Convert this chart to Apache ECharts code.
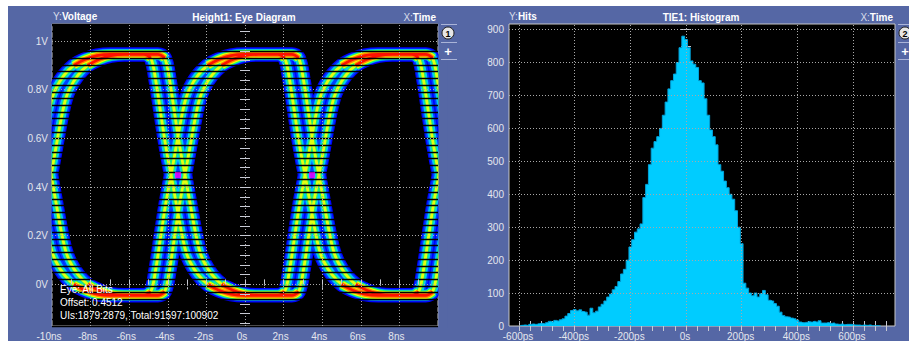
<!DOCTYPE html>
<html><head><meta charset="utf-8">
<script src="https://cdn.jsdelivr.net/npm/echarts@6/dist/echarts.min.js"></script>
<style>
html,body{margin:0;padding:0;background:#fff;}
#wrap{position:relative;width:909px;height:341px;overflow:hidden;}
#panel{position:absolute;left:8px;top:6px;right:0;bottom:0;background:#5567a5;}
#chart{position:absolute;left:0;top:0;width:909px;height:341px;}
</style></head><body>
<div id="wrap"><div id="panel"></div><div id="chart"></div></div>
<script>
// ---------- Eye diagram data (time in ns, level in V) ----------
const eyeXLabelValues = [-10, -8, -6, -4, -2, 0, 2, 4, 6, 8];
const eyeYLabelValues = [0, 0.2, 0.4, 0.6, 0.8, 1];
const eyeGridX = [-8, -6, -4, -2, 0, 2, 4, 6, 8];
const eyeGridY = [0, 0.2, 0.4, 0.6, 0.8, 1];

// edge crossing instants
const crossingTimes = [-10.41, -3.47, 3.47, 10.41];
// rising edge, time relative to its crossing: quick departure, slow settling
const riseDt = [-1.4, -1.05, -0.8, -0.55, -0.28, 0, 0.25, 0.5, 0.75, 1.0, 1.4, 1.9, 2.5, 3.1, 3.8];
const riseV  = [-0.045, -0.03, 0.06, 0.19, 0.33, 0.45, 0.56, 0.67, 0.76, 0.81, 0.86, 0.9, 0.925, 0.94, 0.945];
// falling edge, time relative to its crossing
const fallDt = [-1.4, -1.05, -0.8, -0.55, -0.28, 0, 0.25, 0.5, 0.75, 1.0, 1.4, 1.9, 2.5, 3.1, 3.8];
const fallV  = [0.945, 0.93, 0.84, 0.71, 0.57, 0.45, 0.34, 0.23, 0.14, 0.09, 0.04, 0.0, -0.025, -0.04, -0.045];
// two jitter populations per edge
const jitterShift = [-0.36, 0.36];
const highLevel = 0.945, lowLevel = -0.045;
// crossing markers
const crossMarks = [[-3.47, 0.449], [3.47, 0.449]];

const eyeInfo = ['Eye: All Bits', 'Offset: 0.4512', 'UIs:1879:2879, Total:91597:100902'];

// ---------- TIE histogram data (bins of 10 ps) ----------
const histFirstBin = -600, histBinWidth = 10;
const histCounts = [
  1, 2, 3, 2, 5, 6, 5, 7, 8, 7,
  10, 14, 12, 17, 15, 19, 22, 30, 38, 47,
  50, 46, 49, 44, 42, 33, 54, 40, 45, 58,
  66, 76, 88, 97, 110, 120, 135, 158, 172, 200,
  240, 262, 285, 295, 310, 390, 430, 490, 540, 560,
  575, 600, 640, 680, 720, 745, 765, 800, 845, 880,
  870, 845, 805, 795, 785, 745, 738, 690, 640, 595,
  575, 550, 490, 470, 440, 420, 400, 385, 350, 300,
  250, 130, 115, 100, 92, 100, 88, 98, 108, 95,
  78, 76, 68, 60, 42, 32, 28, 27, 24, 22,
  18, 12, 10, 11, 13, 12, 14, 12, 16, 9,
  9, 10, 8, 9, 6, 5, 6, 4, 5, 5,
  4, 3, 3, 2, 3, 2, 3, 1, 1, 1, 0
];
const histXLabelValues = [-600, -400, -200, 0, 200, 400, 600];
const histYLabelValues = [0, 100, 200, 300, 400, 500, 600, 700, 800, 900];
const histGridX = [-600, -400, -200, 0, 200, 400, 600];
const histGridY = [100, 200, 300, 400, 500, 600, 700, 800, 900];

// ---------- helpers ----------
function steps(from, to, step) {
  const out = [];
  for (let v = from; v <= to + step * 1e-6; v += step) out.push(Math.round(v * 1e6) / 1e6);
  return out;
}

// one full alternating waveform through all crossings, shifted in time
function waveform(startRising, shift) {
  const pts = [];
  crossingTimes.forEach((tc, i) => {
    const rising = (i % 2 === 0) === startRising;
    const dts = rising ? riseDt : fallDt;
    const vs = rising ? riseV : fallV;
    dts.forEach((d, k) => pts.push([tc + d + shift, vs[k]]));
  });
  return pts;
}
const traces = [];
[true, false].forEach(sr => jitterShift.forEach(s => traces.push(waveform(sr, s))));

// hot = only the parts that settle near a logic level (densest hits)
function layerData(hotOnly) {
  const out = [];
  traces.forEach(tr => {
    tr.forEach(p => {
      const nearLevel = Math.abs(p[1] - highLevel) < 0.05 || Math.abs(p[1] - lowLevel) < 0.05;
      out.push(hotOnly && !nearLevel ? null : p);
    });
    out.push(null);
  });
  return out;
}

// persistence colour ramp, widest (rarest) first
const layers = [
  { color: '#0000ff', width: 14.5, hot: false },
  { color: '#0040ff', width: 12, hot: false },
  { color: '#00b0ff', width: 11, hot: true },
  { color: '#00c4ff', width: 8.5, hot: false },
  { color: '#20ff60', width: 9.5, hot: true },
  { color: '#20f070', width: 5.5, hot: false },
  { color: '#f4ff00', width: 7.5, hot: true },
  { color: '#e4ff10', width: 2.8, hot: false },
  { color: '#ff8c00', width: 5.2, hot: true },
  { color: '#ff1000', width: 2.8, hot: true }
];

const labelColor = '#e4e6ee';
const tickColor = '#c8cad4';
const gridColor = '#a8a8a8';
const panelColor = '#5567a5';

function axisTickCfg(vals, len) {
  return { show: true, inside: true, length: len, customValues: vals, lineStyle: { color: tickColor, width: 1 } };
}

const eyeSeries = layers.map(l => ({
  type: 'line', xAxisIndex: 0, yAxisIndex: 0, silent: true,
  data: layerData(l.hot), showSymbol: false, smooth: 0.35, connectNulls: false,
  lineStyle: { color: l.color, width: l.width, cap: 'butt', join: 'round' },
  animation: false, z: 2
}));

const markLineStyle = { color: gridColor, width: 1, type: [1, 2] };
const richTitle = {
  n: { fill: '#d8dcea', font: '10px Liberation Sans, Arial' },
  b: { fill: '#ffffff', font: 'bold 10px Liberation Sans, Arial' }
};

const option = {
  animation: false,
  backgroundColor: 'transparent',
  textStyle: { fontFamily: 'Liberation Sans, Arial, sans-serif' },
  grid: [
    { left: 52, top: 24, width: 386, height: 302, show: true, backgroundColor: '#000', borderColor: '#c8c8c8', borderWidth: 1 },
    { left: 509, top: 24, width: 386, height: 302, show: true, backgroundColor: '#000', borderColor: '#c8c8c8', borderWidth: 1 }
  ],
  xAxis: [
    { type: 'value', gridIndex: 0, min: -10, max: 10, z: 12, axisLine: { show: false }, splitLine: { show: false },
      axisTick: axisTickCfg(steps(-9, 9, 1), 5),
      axisLabel: { customValues: eyeXLabelValues, color: labelColor, fontSize: 10, margin: 5, padding: [0, 6, 0, 0],
        formatter: v => (v === 0 ? '0s' : v + 'ns') } },
    { type: 'value', gridIndex: 0, position: 'top', min: -10, max: 10, axisLine: { show: false }, splitLine: { show: false },
      axisTick: axisTickCfg(steps(-9, 9, 1), 5), axisLabel: { show: false } },
    { type: 'value', gridIndex: 1, min: -636, max: 751, axisLine: { show: false }, splitLine: { show: false },
      axisTick: axisTickCfg(steps(-600, 720, 40), 5),
      axisLabel: { customValues: histXLabelValues, color: labelColor, fontSize: 10, margin: 5, padding: [0, 2, 0, 0],
        formatter: v => (v === 0 ? '0s' : v + 'ps') } },
    { type: 'value', gridIndex: 1, position: 'top', min: -636, max: 751, axisLine: { show: false }, splitLine: { show: false },
      axisTick: axisTickCfg(steps(-600, 720, 40), 5), axisLabel: { show: false } }
  ],
  yAxis: [
    { type: 'value', gridIndex: 0, min: -0.171, max: 1.07, z: 12, axisLine: { show: false }, splitLine: { show: false },
      axisTick: axisTickCfg(steps(-0.16, 1.04, 0.04), 5),
      axisLabel: { customValues: eyeYLabelValues, color: labelColor, fontSize: 10, margin: 4,
        formatter: v => v + 'V' } },
    { type: 'value', gridIndex: 0, position: 'right', min: -0.171, max: 1.07, z: 12, axisLine: { show: false }, splitLine: { show: false },
      axisTick: axisTickCfg(steps(-0.16, 1.04, 0.04), 5), axisLabel: { show: false } },
    // raster rows of the persistence display (rows counted up from the bottom edge)
    { type: 'value', gridIndex: 0, min: -0.171, max: 1.07, interval: 0.0275, z: 4,
      axisLine: { show: false }, axisTick: { show: false }, axisLabel: { show: false },
      splitLine: { show: true, lineStyle: { color: '#000', width: 1.3 } } },
    { type: 'value', gridIndex: 1, min: 0, max: 917, axisLine: { show: false }, splitLine: { show: false },
      axisTick: axisTickCfg(steps(50, 900, 50), 5),
      axisLabel: { customValues: histYLabelValues, color: labelColor, fontSize: 10, margin: 5 } },
    { type: 'value', gridIndex: 1, position: 'right', min: 0, max: 917, axisLine: { show: false }, splitLine: { show: false },
      axisTick: axisTickCfg(steps(50, 900, 50), 5), axisLabel: { show: false } }
  ],
  series: [
    ...eyeSeries,
    { type: 'scatter', xAxisIndex: 0, yAxisIndex: 0, data: crossMarks, symbol: 'rect', symbolSize: 6,
      itemStyle: { color: '#ff00ff' }, z: 7, silent: true,
      markLine: { silent: true, symbol: 'none', label: { show: false }, lineStyle: markLineStyle, z: 5,
        data: eyeGridX.map(v => ({ xAxis: v })).concat(eyeGridY.map(v => ({ yAxis: v }))) } },
    { type: 'line', xAxisIndex: 2, yAxisIndex: 3, silent: true, step: 'middle', showSymbol: false,
      data: histCounts.map((c, i) => [histFirstBin + i * histBinWidth, c]),
      lineStyle: { color: '#00a4dc', width: 1 },
      areaStyle: { color: '#00ccff', opacity: 1 }, z: 2,
      markLine: { silent: true, symbol: 'none', label: { show: false }, lineStyle: markLineStyle, z: 5,
        data: histGridX.map(v => ({ xAxis: v })).concat(histGridY.map(v => ({ yAxis: v }))) } }
  ],
  graphic: [
    // hide stroke overhang of the wide eye traces outside the plot
    { type: 'rect', z: 11, silent: true, shape: { x: 42, y: 22, width: 9.5, height: 306 }, style: { fill: panelColor } },
    { type: 'rect', z: 11, silent: true, shape: { x: 438.5, y: 22, width: 9, height: 306 }, style: { fill: panelColor } },
    // panel headers
    { type: 'text', left: 53, top: 11, z: 20, style: { text: '{n|Y:}{b|Voltage}', rich: richTitle } },
    { type: 'text', x: 244, y: 17, z: 20, style: { text: 'Height1: Eye Diagram', fill: '#fff', font: 'bold 10px Liberation Sans, Arial', align: 'center', verticalAlign: 'middle' } },
    { type: 'text', x: 436, y: 17, z: 20, style: { text: '{n|X:}{b|Time}', align: 'right', verticalAlign: 'middle', rich: richTitle } },
    { type: 'text', left: 509, top: 11, z: 20, style: { text: '{n|Y:}{b|Hits}', rich: richTitle } },
    { type: 'text', x: 701, y: 17, z: 20, style: { text: 'TIE1: Histogram', fill: '#fff', font: 'bold 10px Liberation Sans, Arial', align: 'center', verticalAlign: 'middle' } },
    { type: 'text', x: 893, y: 17, z: 20, style: { text: '{n|X:}{b|Time}', align: 'right', verticalAlign: 'middle', rich: richTitle } },
    // eye annotation
    { type: 'text', x: 60, y: 289, z: 20, style: { text: eyeInfo[0], fill: '#fff', font: '10px Liberation Sans, Arial', verticalAlign: 'middle' } },
    { type: 'text', x: 60, y: 302, z: 20, style: { text: eyeInfo[1], fill: '#fff', font: '10px Liberation Sans, Arial', verticalAlign: 'middle' } },
    { type: 'text', x: 60, y: 315, z: 20, style: { text: eyeInfo[2], fill: '#fff', font: '10px Liberation Sans, Arial', verticalAlign: 'middle' } },
    // panel 1 side buttons
    { type: 'line', z: 20, shape: { x1: 441, y1: 24.5, x2: 457, y2: 24.5 }, style: { stroke: '#aab4d8', lineWidth: 1 } },
    { type: 'line', z: 20, shape: { x1: 441, y1: 42.5, x2: 457, y2: 42.5 }, style: { stroke: '#aab4d8', lineWidth: 1 } },
    { type: 'line', z: 20, shape: { x1: 441, y1: 59.5, x2: 457, y2: 59.5 }, style: { stroke: '#aab4d8', lineWidth: 1 } },
    { type: 'circle', z: 20, shape: { cx: 448, cy: 33, r: 6 }, style: { fill: '#e6e6e6', stroke: '#202020', lineWidth: 1 } },
    { type: 'text', z: 21, x: 448, y: 33.5, style: { text: '1', fill: '#000', font: 'bold 9px Liberation Sans, Arial', align: 'center', verticalAlign: 'middle' } },
    { type: 'text', z: 21, x: 448, y: 51, style: { text: '+', fill: '#fff', font: 'bold 13px Liberation Sans, Arial', align: 'center', verticalAlign: 'middle' } },
    // panel 2 side buttons
    { type: 'line', z: 20, shape: { x1: 898, y1: 24.5, x2: 909, y2: 24.5 }, style: { stroke: '#aab4d8', lineWidth: 1 } },
    { type: 'line', z: 20, shape: { x1: 898, y1: 42.5, x2: 909, y2: 42.5 }, style: { stroke: '#aab4d8', lineWidth: 1 } },
    { type: 'line', z: 20, shape: { x1: 898, y1: 59.5, x2: 909, y2: 59.5 }, style: { stroke: '#aab4d8', lineWidth: 1 } },
    { type: 'circle', z: 20, shape: { cx: 905, cy: 33, r: 6 }, style: { fill: '#e6e6e6', stroke: '#202020', lineWidth: 1 } },
    { type: 'text', z: 21, x: 905, y: 33.5, style: { text: '2', fill: '#000', font: 'bold 9px Liberation Sans, Arial', align: 'center', verticalAlign: 'middle' } },
    { type: 'text', z: 21, x: 905, y: 51, style: { text: '+', fill: '#fff', font: 'bold 13px Liberation Sans, Arial', align: 'center', verticalAlign: 'middle' } }
  ]
};

const chart = echarts.init(document.getElementById('chart'), null, { renderer: 'svg', width: 909, height: 341 });
chart.setOption(option);
</script>
</body></html>
